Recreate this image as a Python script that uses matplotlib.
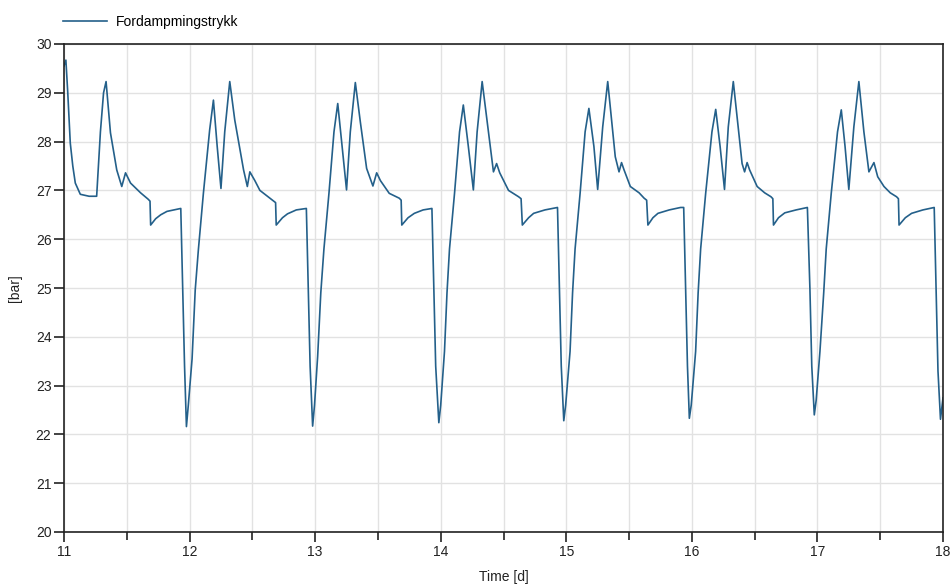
#!/usr/bin/env python3

import matplotlib
matplotlib.use('Agg')
import matplotlib.pyplot as plt
from matplotlib.ticker import MultipleLocator

# Evaporator pressure [bar] over simulation time [d], one block per day
time_d = [
    # day 11 (start of window)
    11.0, 11.015, 11.03, 11.05, 11.07, 11.09, 11.13, 11.20, 11.26, 11.29, 11.315,
    11.335, 11.37, 11.42, 11.46, 11.49, 11.53, 11.61, 11.67, 11.685, 11.69, 11.73,
    11.77, 11.82, 11.91, 11.93,
    # day 12
    11.945, 11.96, 11.975, 11.99, 12.02, 12.045, 12.07, 12.11, 12.16, 12.19, 12.22,
    12.25, 12.28, 12.32, 12.36, 12.43, 12.46, 12.48, 12.52, 12.56, 12.66, 12.685,
    12.69, 12.74, 12.78, 12.85, 12.93,
    # day 13
    12.945, 12.96, 12.98, 12.995, 13.02, 13.045, 13.07, 13.11, 13.15, 13.18, 13.215,
    13.25, 13.28, 13.32, 13.36, 13.41, 13.46, 13.49, 13.52, 13.59, 13.67, 13.685,
    13.69, 13.74, 13.79, 13.86, 13.93,
    # day 14
    13.945, 13.96, 13.985, 14.0, 14.03, 14.05, 14.07, 14.11, 14.15, 14.18, 14.22,
    14.26, 14.29, 14.33, 14.37, 14.42, 14.445, 14.47, 14.54, 14.62, 14.64, 14.65,
    14.70, 14.74, 14.83, 14.93,
    # day 15
    14.945, 14.96, 14.98, 14.995, 15.03, 15.05, 15.07, 15.11, 15.15, 15.18, 15.22,
    15.25, 15.29, 15.33, 15.39, 15.42, 15.44, 15.46, 15.51, 15.58, 15.62, 15.64,
    15.65, 15.69, 15.73, 15.82, 15.91,
    # day 16
    15.935, 15.95, 15.965, 15.98, 15.995, 16.03, 16.05, 16.07, 16.11, 16.16, 16.19,
    16.225, 16.26, 16.29, 16.33, 16.40, 16.42, 16.44, 16.46, 16.52, 16.58, 16.63,
    16.645, 16.65, 16.69, 16.74, 16.83, 16.92,
    # day 17
    16.94, 16.955, 16.975, 16.99, 17.02, 17.05, 17.07, 17.11, 17.16, 17.19, 17.22,
    17.25, 17.29, 17.33, 17.37, 17.41, 17.45, 17.48, 17.53, 17.58, 17.63, 17.645,
    17.65, 17.70, 17.75, 17.84, 17.93,
    # day 18 (end of window)
    17.945, 17.96, 17.98, 18.0,
]

pressure_bar = [
    # day 11
    29.55, 29.67, 29.0, 27.97, 27.5, 27.15, 26.92, 26.88, 26.88, 28.2, 29.0,
    29.23, 28.18, 27.42, 27.08, 27.36, 27.15, 26.95, 26.82, 26.78, 26.29, 26.42,
    26.5, 26.57, 26.62, 26.63,
    # day 12
    25.0, 23.4, 22.16, 22.6, 23.55, 24.96, 25.78, 26.94, 28.24, 28.85, 27.9,
    27.04, 28.2, 29.23, 28.44, 27.42, 27.08, 27.38, 27.2, 27.0, 26.8, 26.75,
    26.29, 26.44, 26.52, 26.6, 26.63,
    # day 13
    25.0, 23.4, 22.17, 22.6, 23.6, 24.9, 25.8, 26.94, 28.2, 28.78, 27.9,
    27.01, 28.2, 29.21, 28.4, 27.45, 27.09, 27.36, 27.2, 26.94, 26.84, 26.8,
    26.29, 26.44, 26.53, 26.6, 26.63,
    # day 14
    25.0, 23.4, 22.24, 22.6, 23.7, 24.9, 25.8, 26.94, 28.2, 28.75, 27.9,
    27.01, 28.2, 29.23, 28.4, 27.38, 27.55, 27.36, 27.0, 26.87, 26.83, 26.29,
    26.44, 26.53, 26.6, 26.65,
    # day 15
    25.0, 23.4, 22.28, 22.6, 23.7, 24.9, 25.8, 26.94, 28.2, 28.68, 27.9,
    27.02, 28.3, 29.23, 27.69, 27.38, 27.57, 27.42, 27.08, 26.95, 26.84, 26.8,
    26.29, 26.44, 26.53, 26.6, 26.65,
    # day 16
    26.65, 25.0, 23.4, 22.33, 22.6, 23.7, 24.9, 25.8, 26.94, 28.2, 28.66,
    27.9, 27.02, 28.3, 29.23, 27.55, 27.38, 27.57, 27.42, 27.08, 26.95, 26.87,
    26.83, 26.29, 26.44, 26.54, 26.6, 26.65,
    # day 17
    25.0, 23.4, 22.40, 22.7, 23.7, 24.9, 25.8, 26.94, 28.2, 28.65, 27.9,
    27.02, 28.3, 29.23, 28.2, 27.38, 27.57, 27.28, 27.08, 26.95, 26.87, 26.83,
    26.29, 26.44, 26.53, 26.6, 26.65,
    # day 18
    25.0, 23.3, 22.31, 22.75,
]

series_label = 'Fordampmingstrykk'


def main():
    plt.rcParams['font.family'] = ['Liberation Sans', 'DejaVu Sans']
    plt.rcParams['font.size'] = 10

    fig = plt.figure(figsize=(9.52, 5.87), dpi=100)
    ax = fig.add_axes([64 / 952, 1 - 532 / 587, (943 - 64) / 952, (532 - 44) / 587])

    line, = ax.plot(time_d, pressure_bar, color='#24608a', lw=1.2,
                    label=series_label)

    ax.set_xlim(11, 18)
    ax.set_ylim(20, 30)
    ax.xaxis.set_major_locator(MultipleLocator(1))
    ax.xaxis.set_minor_locator(MultipleLocator(0.5))
    ax.yaxis.set_major_locator(MultipleLocator(1))

    ax.grid(True, which='both', color='#e2e2e2', lw=1.0)
    ax.set_axisbelow(True)
    for s in ax.spines.values():
        s.set_color('#222222')
        s.set_linewidth(1.2)
    ax.tick_params(which='major', direction='out', length=7, width=1.2,
                   color='#222222', labelcolor='#222222', labelsize=10, pad=2)
    ax.tick_params(which='minor', direction='out', length=6, width=1.2,
                   color='#222222')

    ax.set_xlabel('Time [d]', fontsize=10, color='#222222', labelpad=8)
    ax.set_ylabel('[bar]', fontsize=10, color='#222222', labelpad=10)

    fig.legend(handles=[line], loc='center left',
               bbox_to_anchor=(63 / 952, 1 - 22 / 587), frameon=False,
               borderpad=0, borderaxespad=0, handlelength=3.2,
               handletextpad=0.6, fontsize=10)

    fig.savefig('out.png', dpi=100)


if __name__ == '__main__':
    main()
